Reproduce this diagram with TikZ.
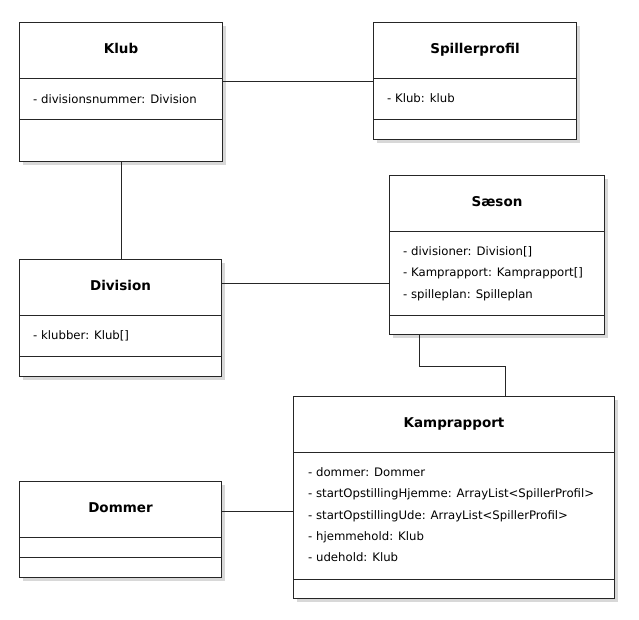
\documentclass[tikz,border=0pt]{standalone}
\usepackage{fontspec}
\setmainfont{DejaVu Sans}
\usetikzlibrary{positioning}
\usetikzlibrary{shadows}

\begin{document}
\begin{tikzpicture}[x=1pt,y=-1pt,
		klasse/.style={draw=black!85,line width=1pt,fill=white,anchor=north west,inner sep=0pt,
			drop shadow={shadow xshift=3.5pt,shadow yshift=-3.5pt,fill=black!30}},
		titel/.style={font=\fontsize{13.5}{16}\selectfont\bfseries,text height=10pt,text depth=3pt,inner sep=0pt},
		felt/.style={font=\fontsize{11.7}{14}\selectfont,anchor=west,text height=9pt,text depth=3pt,inner sep=0pt},
		skille/.style={draw=black!85,line width=1pt},
		linje/.style={draw=black!85,line width=1pt}]
				\useasboundingbox (0,0) rectangle (639,619);

				%Nodes
				\node[klasse,minimum width=203pt,minimum height=139pt] (klub) at (19,22) {};
				\node[klasse,minimum width=203pt,minimum height=117pt] (spillerprofil) at (373,22) {};
				\node[klasse,minimum width=202pt,minimum height=117pt] (division) at (19,259) {};
				\node[klasse,minimum width=215pt,minimum height=159pt] (saeson) at (389,175) {};
				\node[klasse,minimum width=321pt,minimum height=202pt] (kamprapport) at (293,396) {};
				\node[klasse,minimum width=202pt,minimum height=96pt] (dommer) at (19,481) {};

				%Dividers
				\draw[skille] (klub.west |- 0,78) -- (klub.east |- 0,78);
				\draw[skille] (klub.west |- 0,119) -- (klub.east |- 0,119);
				\draw[skille] (spillerprofil.west |- 0,78) -- (spillerprofil.east |- 0,78);
				\draw[skille] (spillerprofil.west |- 0,119) -- (spillerprofil.east |- 0,119);
				\draw[skille] (division.west |- 0,315) -- (division.east |- 0,315);
				\draw[skille] (division.west |- 0,356) -- (division.east |- 0,356);
				\draw[skille] (saeson.west |- 0,231) -- (saeson.east |- 0,231);
				\draw[skille] (saeson.west |- 0,315) -- (saeson.east |- 0,315);
				\draw[skille] (kamprapport.west |- 0,452) -- (kamprapport.east |- 0,452);
				\draw[skille] (kamprapport.west |- 0,579) -- (kamprapport.east |- 0,579);
				\draw[skille] (dommer.west |- 0,537) -- (dommer.east |- 0,537);
				\draw[skille] (dommer.west |- 0,557) -- (dommer.east |- 0,557);

				%Titles
				\node[titel] (klubT) at (klub.north |- 0,50) {Klub};
				\node[titel] (spillerprofilT) at (spillerprofil.north |- 0,50) {Spillerprofil};
				\node[titel] (divisionT) at (division.north |- 0,287) {Division};
				\node[titel] (saesonT) at (saeson.north |- 0,203) {Sæson};
				\node[titel] (kamprapportT) at (kamprapport.north |- 0,424) {Kamprapport};
				\node[titel] (dommerT) at (dommer.north |- 0,509) {Dommer};

				%Attributes
				\node[felt] (klubA) at (33,100) {- divisionsnummer: Division};
				\node[felt] (spillerprofilA) at (387,99) {- Klub: klub};
				\node[felt] (divisionA) at (33,336) {- klubber: Klub[]};
				\node[felt] (saesonA1) at (403,252) {- divisioner: Division[]};
				\node[felt] (saesonA2) at (403,273) {- Kamprapport: Kamprapport[]};
				\node[felt] (saesonA3) at (403,295) {- spilleplan: Spilleplan};
				\node[felt] (kampA1) at (308,473) {- dommer: Dommer};
				\node[felt] (kampA2) at (308,494) {- startOpstillingHjemme: ArrayList<SpillerProfil>};
				\node[felt] (kampA3) at (308,516) {- startOpstillingUde: ArrayList<SpillerProfil>};
				\node[felt] (kampA4) at (308,537) {- hjemmehold: Klub};
				\node[felt] (kampA5) at (308,558) {- udehold: Klub};

				%Lines
				\draw[linje] (spillerprofil.west) -- (spillerprofil.west -| klub.east);
				\draw[linje] (klub.south) -- (klub.south |- division.north);
				\draw[linje] ([yshift=-24pt]division.north east) -- ([yshift=-24pt]division.north east -| saeson.west);
				\draw[linje] ([xshift=30pt]saeson.south west) -- ++(0,31) -| ([xshift=212pt]kamprapport.north west);
				\draw[linje] ([yshift=-30pt]dommer.north east) -- ([yshift=-30pt]dommer.north east -| kamprapport.west);

\end{tikzpicture}
\end{document}
